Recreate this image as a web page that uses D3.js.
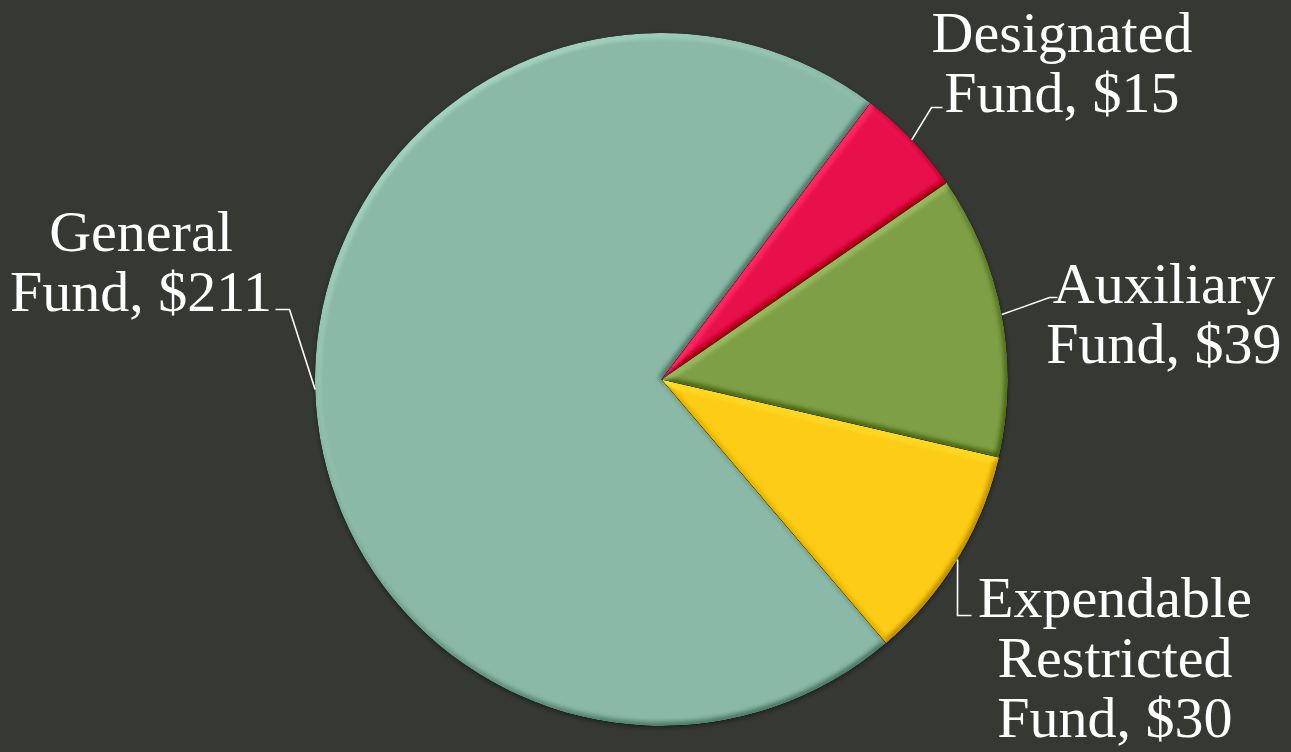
<!DOCTYPE html>
<html>
<head>
<meta charset="utf-8">
<script src="https://cdn.jsdelivr.net/npm/d3@7"></script>
<style>
  html, body { margin: 0; padding: 0; background: #363834; }
  svg { display: block; }
</style>
</head>
<body>
<svg id="chart" width="1291" height="752"></svg>
<script>
// Fund balances (in $ millions)
const categories = ["General Fund", "Designated Fund", "Auxiliary Fund", "Expendable Restricted Fund"];
const values = [211, 15, 39, 30];
const colors = ["#8ab9a7", "#e8104a", "#7f9f46", "#fdcc17"];
const labelLines = [
  ["General", "Fund, $211"],
  ["Designated", "Fund, $15"],
  ["Auxiliary", "Fund, $39"],
  ["Expendable", "Restricted", "Fund, $30"]
];

const W = 1291, H = 752;
const cx = 661.5, cy = 379.5, R = 346.5;
const firstSliceAngle = -220.4 * Math.PI / 180;

const svg = d3.select("#chart");
svg.append("rect").attr("width", W).attr("height", H).attr("fill", "#363834");

// soft bevel: diffuse lighting on the blurred slice alpha, added around a mid-grey baseline
const defs = svg.append("defs");
const f = defs.append("filter").attr("id", "bevel")
  .attr("x", "-10%").attr("y", "-10%").attr("width", "120%").attr("height", "120%")
  .attr("color-interpolation-filters", "sRGB");
f.append("feGaussianBlur").attr("in", "SourceAlpha").attr("stdDeviation", 3.2).attr("result", "blur");
const light = f.append("feDiffuseLighting").attr("in", "blur").attr("surfaceScale", 5)
  .attr("diffuseConstant", 0.7071).attr("lighting-color", "#ffffff").attr("result", "lit");
light.append("feDistantLight").attr("azimuth", 235).attr("elevation", 45);
f.append("feComposite").attr("in", "SourceGraphic").attr("in2", "lit").attr("operator", "arithmetic")
  .attr("k1", 0).attr("k2", 1).attr("k3", 0.45).attr("k4", -0.225).attr("result", "shaded");
f.append("feComposite").attr("in", "shaded").attr("in2", "SourceAlpha").attr("operator", "in");

const shadow = defs.append("filter").attr("id", "shadow")
  .attr("x", "-10%").attr("y", "-10%").attr("width", "120%").attr("height", "120%");
shadow.append("feGaussianBlur").attr("in", "SourceAlpha").attr("stdDeviation", 2.5).attr("result", "b");
shadow.append("feOffset").attr("in", "b").attr("dx", 0).attr("dy", 2).attr("result", "o");
shadow.append("feFlood").attr("flood-color", "#000").attr("flood-opacity", 0.4);
shadow.append("feComposite").attr("in2", "o").attr("operator", "in");

const data = categories.map((c, i) => ({ name: c, value: values[i], color: colors[i], lines: labelLines[i] }));

const pie = d3.pie().sort(null).value(d => d.value)
  .startAngle(firstSliceAngle).endAngle(firstSliceAngle + 2 * Math.PI);
const arcs = pie(data);
const arc = d3.arc().innerRadius(0).outerRadius(R);

const g = svg.append("g").attr("transform", `translate(${cx},${cy})`);

// shadow under the whole disc
g.append("circle").attr("r", R).attr("fill", "#000").attr("filter", "url(#shadow)");

g.selectAll("path.slice").data(arcs).enter().append("path")
  .attr("class", "slice")
  .attr("d", arc)
  .attr("fill", d => d.data.color)
  .attr("filter", "url(#bevel)");

// label blocks: anchor (centre x, first baseline) and leader elbow
const labelLayout = [
  { x: 141, y: 251, elbow: [[-372, -70], [-386, -70]] },
  { x: 1062, y: 52, elbow: [[270, -272], [281, -272]] },
  { x: 1164, y: 303, elbow: [[388, -82], [396, -82]] },
  { x: 1115, y: 617, elbow: [[296, 236], [310, 236]] }
];
const lineH = 60;

arcs.forEach((a, i) => {
  const mid = (a.startAngle + a.endAngle) / 2;
  const p0 = [R * Math.sin(mid), -R * Math.cos(mid)];
  const L = labelLayout[i];
  const pts = [p0, ...L.elbow];
  g.append("path")
    .attr("d", d3.line()(pts))
    .attr("fill", "none").attr("stroke", "#ffffff").attr("stroke-width", 1.6);

  const t = svg.append("text")
    .attr("x", L.x).attr("y", L.y)
    .attr("text-anchor", "middle")
    .attr("fill", "#ffffff")
    .style("font-family", "'Liberation Serif', 'Times New Roman', serif")
    .style("font-size", "58px");
  a.data.lines.forEach((ln, j) => {
    t.append("tspan").attr("x", L.x).attr("y", L.y + j * lineH).text(ln);
  });
});
</script>
</body>
</html>
